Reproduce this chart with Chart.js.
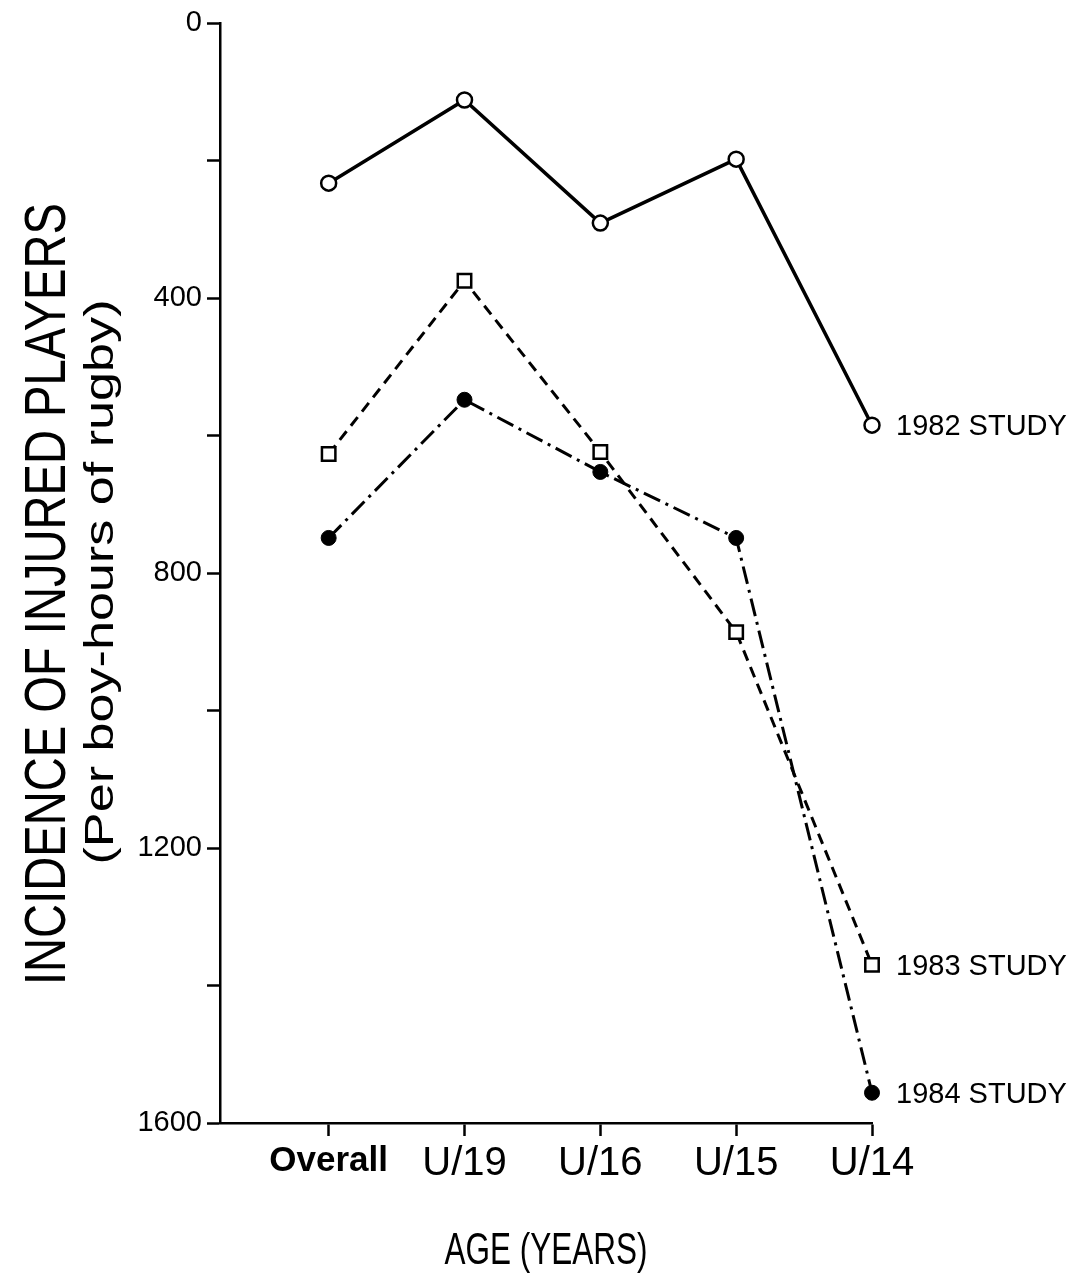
<!DOCTYPE html>
<html>
<head>
<meta charset="utf-8">
<script src="https://cdn.jsdelivr.net/npm/chart.js@4.4.1/dist/chart.umd.min.js"></script>
<style>
  html, body { margin: 0; padding: 0; background: #fff; }
</style>
</head>
<body>
<canvas id="injuryChart" width="1084" height="1282"></canvas>
<script>
// values (injuries per boy-hours of rugby)
const ageGroups = ['Overall', 'U/19', 'U/16', 'U/15', 'U/14'];
const study1982 = [233, 112, 291, 198, 585];
const study1983 = [627, 375, 624, 886, 1370];
const study1984 = [749, 548, 653, 749, 1556];
const seriesNames = ['1982 STUDY', '1983 STUDY', '1984 STUDY'];
const yTickValues = [0, 200, 400, 600, 800, 1000, 1200, 1400, 1600];
const yTickLabels = ['0', '', '400', '', '800', '', '1200', '', '1600'];

const SANS = '"Liberation Sans", Arial, sans-serif';

function toPoints(values) {
  return values.map((v, i) => ({ x: i, y: v }));
}

// axis titles, squeezed/stretched along the text to the length seen in the scan
function drawTitle(ctx, text, cx, cy, size, length, rotated) {
  ctx.save();
  ctx.font = size + 'px ' + SANS;
  const w = ctx.measureText(text).width;
  ctx.translate(cx, cy);
  if (rotated) ctx.rotate(-Math.PI / 2);
  ctx.scale(length / w, 1);
  ctx.textAlign = 'center';
  ctx.textBaseline = 'middle';
  ctx.fillStyle = '#000';
  ctx.fillText(text, 0, 0);
  ctx.restore();
}

const axisTitles = {
  id: 'axisTitles',
  afterDraw(chart) {
    const ctx = chart.ctx;
    const area = chart.chartArea;
    drawTitle(ctx, 'INCIDENCE OF INJURED PLAYERS', 49, 594, 58, 782, true);
    drawTitle(ctx, '(Per boy-hours of rugby)', 102, 582, 40, 565, true);
    drawTitle(ctx, 'AGE (YEARS)', (area.left + area.right) / 2, 1252, 44, 203, false);
  }
};

// "1982 STUDY" etc. written next to the last point of each line
const endLabels = {
  id: 'endLabels',
  afterDatasetsDraw(chart) {
    const ctx = chart.ctx;
    ctx.save();
    ctx.font = '29px ' + SANS;
    ctx.fillStyle = '#000';
    ctx.textBaseline = 'middle';
    chart.data.datasets.forEach((ds, i) => {
      const pts = chart.getDatasetMeta(i).data;
      const last = pts[pts.length - 1];
      ctx.fillText(seriesNames[i], last.x + 24, last.y + 2);
    });
    ctx.restore();
  }
};

const axisGrid = {
  drawOnChartArea: false,
  drawTicks: true,
  tickLength: 13,
  tickWidth: 2.5,
  tickColor: '#000'
};

const ctx = document.getElementById('injuryChart');
new Chart(ctx, {
  type: 'line',
  data: {
    datasets: [
      {
        label: seriesNames[0],
        data: toPoints(study1982),
        borderColor: '#000',
        borderWidth: 3.5,
        pointStyle: 'circle',
        pointRadius: 7.5,
        pointBorderWidth: 2.5,
        pointBackgroundColor: '#fff',
        pointBorderColor: '#000'
      },
      {
        label: seriesNames[1],
        data: toPoints(study1983),
        borderColor: '#000',
        borderWidth: 3,
        borderDash: [11, 7],
        pointStyle: 'rect',
        pointRadius: 9.5,
        pointBorderWidth: 2.5,
        pointBackgroundColor: '#fff',
        pointBorderColor: '#000'
      },
      {
        label: seriesNames[2],
        data: toPoints(study1984),
        borderColor: '#000',
        borderWidth: 3,
        borderDash: [18, 6, 3, 6],
        pointStyle: 'circle',
        pointRadius: 7.5,
        pointBorderWidth: 1,
        pointBackgroundColor: '#000',
        pointBorderColor: '#000'
      }
    ]
  },
  options: {
    responsive: false,
    animation: false,
    clip: false,
    layout: { padding: { top: 23, right: 212, left: 0, bottom: 0 } },
    plugins: {
      legend: { display: false },
      tooltip: { enabled: false }
    },
    scales: {
      x: {
        type: 'linear',
        min: -0.8,
        max: 4,
        afterBuildTicks: s => { s.ticks = ageGroups.map((_, i) => ({ value: i })); },
        afterFit: s => { s.height = 159; },
        border: { display: true, color: '#000', width: 2.5 },
        grid: axisGrid,
        ticks: {
          autoSkip: false,
          maxRotation: 0,
          padding: 4,
          color: '#000',
          callback: v => ageGroups[v],
          font: c => (c.index === 0
            ? { family: SANS, size: 35, weight: 'bold' }
            : { family: SANS, size: 40 })
        }
      },
      y: {
        reverse: true,
        min: 0,
        max: 1600,
        afterBuildTicks: s => { s.ticks = yTickValues.map(v => ({ value: v })); },
        afterFit: s => { s.width = 220; },
        border: { display: true, color: '#000', width: 2.5 },
        grid: axisGrid,
        ticks: {
          padding: 5,
          color: '#000',
          font: { family: SANS, size: 29 },
          callback: v => yTickLabels[yTickValues.indexOf(v)]
        }
      }
    }
  },
  plugins: [axisTitles, endLabels]
});
</script>
</body>
</html>
